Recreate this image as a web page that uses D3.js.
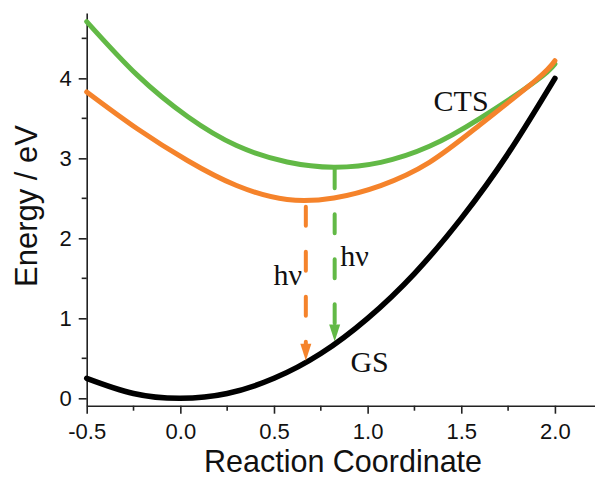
<!DOCTYPE html>
<html>
<head>
<meta charset="utf-8">
<script src="https://cdn.jsdelivr.net/npm/d3@7"></script>
<style>
  body { margin: 0; background: #fff; }
  .axis text { font-family: "Liberation Sans", Arial, sans-serif; font-size: 22px; fill: #111; }
  .axis path, .axis line { stroke: #222; stroke-width: 1.6px; }
</style>
</head>
<body>
<div id="chart"></div>
<script>
// values
var gsX = [-0.5, -0.25, 0, 0.25, 0.5, 0.75, 1.0, 1.25, 1.5, 1.75, 2.0];
var gsE = [0.25, 0.06, 0, 0.06, 0.25, 0.56, 1.0, 1.56, 2.25, 3.06, 4.0];

var ctsX = [-0.5, -0.23, 0.04, 0.3, 0.57, 0.82, 1.07, 1.33, 1.6, 1.9, 2.0];
var ctsGreenE = [4.71, 4.04, 3.52, 3.16, 2.955, 2.89, 2.95, 3.15, 3.5, 3.97, 4.18];
var ctsOrangeE = [3.83, 3.37, 2.97, 2.66, 2.485, 2.505, 2.66, 2.95, 3.42, 3.98, 4.22];

// vertical transitions: x, top energy, bottom energy
var arrowX = [0.67, 0.824];
var arrowTop = [2.42, 2.89];
var arrowBottom = [0.47, 0.71];
var arrowColors = ["#f5832b", "#62b946"];

var xTicks = [-0.5, 0.0, 0.5, 1.0, 1.5, 2.0];
var yTicks = [0, 1, 2, 3, 4];

var labelText = ["CTS", "GS", "h\u03bd", "h\u03bd"];
var labelX = [1.352, 0.908, 0.497, 0.854];
var labelE = [3.595, 0.333, 1.416, 1.654];

var width = 595, height = 479;

var svg = d3
  .select("#chart")
  .append("svg")
  .attr("width", width)
  .attr("height", height);

var x = d3.scaleLinear().domain([-0.5, 2.214]).range([86.7, 595]);
var y = d3.scaleLinear().domain([-0.0925, 4.817]).range([405.7, 13]);

// minor ticks
var xMinor = d3.range(-0.25, 2.1, 0.5);
var yMinor = d3.range(0.5, 4.6, 1);

var xAxis = svg
  .append("g")
  .attr("class", "axis")
  .attr("transform", "translate(0," + y.range()[0] + ")")
  .call(
    d3.axisBottom(x).tickValues(xTicks).tickSize(8).tickSizeOuter(0).tickPadding(9)
      .tickFormat(function (d) { return d.toFixed(1); })
  );
xAxis.selectAll("text").attr("dy", "0.72em");
xAxis
  .selectAll(".minor")
  .data(xMinor)
  .enter()
  .append("line")
  .attr("class", "minor")
  .attr("x1", function (d) { return x(d); })
  .attr("x2", function (d) { return x(d); })
  .attr("y1", 0)
  .attr("y2", 5);

var yAxis = svg
  .append("g")
  .attr("class", "axis")
  .attr("transform", "translate(" + x.range()[0] + ",0)")
  .call(
    d3.axisLeft(y).tickValues(yTicks).tickSize(8).tickSizeOuter(0).tickPadding(7)
      .tickFormat(function (d) { return String(d); })
  );
yAxis
  .selectAll(".minor")
  .data(yMinor)
  .enter()
  .append("line")
  .attr("class", "minor")
  .attr("y1", function (d) { return y(d); })
  .attr("y2", function (d) { return y(d); })
  .attr("x1", 0)
  .attr("x2", -5);

var line = d3
  .line()
  .x(function (d) { return x(d[0]); })
  .y(function (d) { return y(d[1]); })
  .curve(d3.curveNatural);

function drawCurve(xs, es, color, w) {
  svg
    .append("path")
    .datum(d3.zip(xs, es))
    .attr("fill", "none")
    .attr("stroke", color)
    .attr("stroke-width", w)
    .attr("stroke-linecap", "round")
    .attr("d", line);
}

drawCurve(gsX, gsE, "#000", 5.5);
drawCurve(ctsX, ctsGreenE, arrowColors[1], 5);
drawCurve(ctsX, ctsOrangeE, arrowColors[0], 5);

// dashed arrows
var headLen = 17, headW = 11;
arrowX.forEach(function (ax, i) {
  var px = x(ax), y0 = y(arrowTop[i]), y1 = y(arrowBottom[i]);
  svg
    .append("line")
    .attr("x1", px)
    .attr("x2", px)
    .attr("y1", y0 + 2)
    .attr("y2", y1 - headLen + 2)
    .attr("stroke", arrowColors[i])
    .attr("stroke-width", 4)
    .attr("stroke-linecap", "round")
    .attr("stroke-dasharray", "19,26");
  svg
    .append("path")
    .attr("fill", arrowColors[i])
    .attr(
      "d",
      "M" + (px - headW / 2) + "," + (y1 - headLen) +
      "L" + (px + headW / 2) + "," + (y1 - headLen) +
      "L" + px + "," + y1 + "Z"
    );
});

// annotations
svg
  .selectAll(".note")
  .data(labelText)
  .enter()
  .append("text")
  .attr("class", "note")
  .attr("x", function (d, i) { return x(labelX[i]); })
  .attr("y", function (d, i) { return y(labelE[i]); })
  .attr("font-family", "'Liberation Serif', 'Times New Roman', serif")
  .attr("font-size", "30px")
  .attr("fill", "#111")
  .text(function (d) { return d; });

// axis titles
svg
  .append("text")
  .attr("text-anchor", "middle")
  .attr("x", 343)
  .attr("y", 472)
  .attr("font-family", "'Liberation Sans', Arial, sans-serif")
  .attr("font-size", "30.5px")
  .attr("fill", "#111")
  .text("Reaction Coordinate");

svg
  .append("text")
  .attr("text-anchor", "middle")
  .attr("transform", "translate(37,206)rotate(-90)")
  .attr("font-family", "'Liberation Sans', Arial, sans-serif")
  .attr("font-size", "31px")
  .attr("fill", "#111")
  .text("Energy / eV");
</script>
</body>
</html>
